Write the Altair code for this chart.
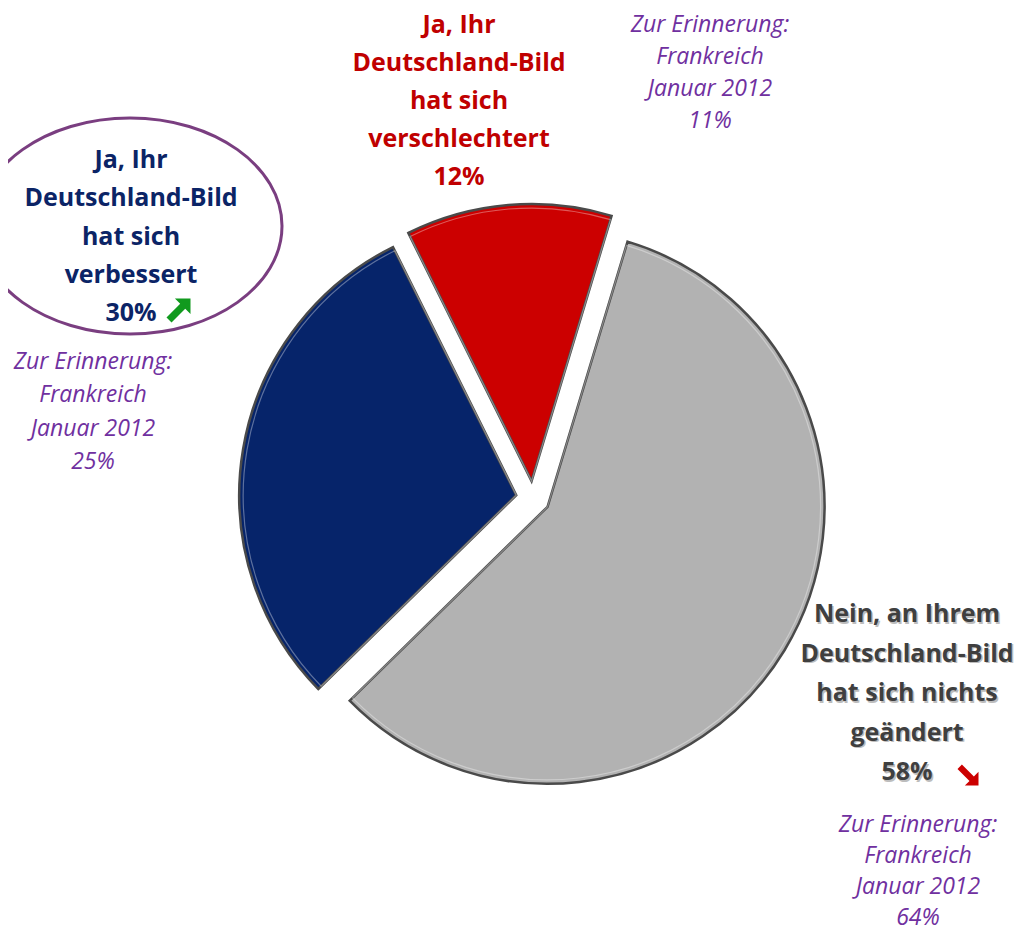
import altair as alt
import pandas as pd

# ---------------- data ----------------
categories = ["Nein, nichts geändert", "Ja, verbessert", "Ja, verschlechtert"]
values = [58, 30, 12]
slice_order = [0, 1, 2]
slice_colors = ["#B2B2B2", "#06246A", "#CC0000"]

label_blue = ["Ja, Ihr", "Deutschland-Bild", "hat sich", "verbessert", "30%"]
label_red = ["Ja, Ihr", "Deutschland-Bild", "hat sich", "verschlechtert", "12%"]
label_gray = ["Nein, an Ihrem", "Deutschland-Bild", "hat sich nichts", "geändert", "58%"]
reminder_blue = ["Zur Erinnerung:", "Frankreich", "Januar 2012", "25%"]
reminder_red = ["Zur Erinnerung:", "Frankreich", "Januar 2012", "11%"]
reminder_gray = ["Zur Erinnerung:", "Frankreich", "Januar 2012", "64%"]

# ---------------- layout (page pixels of the reference) ----------------
OFF = 8
W, H = 1024 - 2 * OFF, 937 - 2 * OFF
CX, CY = 533 - OFF, 498 - OFF
R = 277
EXPLODE = 17
ROT = 0.293  # start angle of first slice (radians, clockwise from top)

df = pd.DataFrame({"cat": categories, "value": values, "order": slice_order})

pie = (
    alt.Chart(df)
    .transform_joinaggregate(total="sum(value)")
    .transform_window(cum="sum(value)", sort=[alt.SortField("order")], frame=[None, 0])
    .transform_calculate(
        start=f"(datum.cum - datum.value) / datum.total * 2 * PI + {ROT}",
        end=f"datum.cum / datum.total * 2 * PI + {ROT}",
    )
    .transform_calculate(mid="(datum.start + datum.end) / 2")
    .transform_calculate(
        cx=f"{CX} + {EXPLODE} * sin(datum.mid)",
        cy=f"{CY} - {EXPLODE} * cos(datum.mid)",
    )
)

base_enc = dict(
    theta=alt.Theta("start:Q", scale=None),
    theta2="end:Q",
    x=alt.X("cx:Q", scale=None, axis=None),
    y=alt.Y("cy:Q", scale=None, axis=None),
)

slices = pie.mark_arc(radius=R, stroke="#4A4A4A", strokeWidth=2.5).encode(
    color=alt.Color("cat:N", scale=alt.Scale(domain=categories, range=slice_colors), legend=None),
    **base_enc,
)
highlight = pie.mark_arc(radius=R - 4, filled=False, stroke="white", strokeWidth=1.2, strokeOpacity=0.35).encode(
    **base_enc
)


def text_block(lines, x, y, color, size, line_h, italic=False, bold=True, dx=0, dy=0):
    """x, y: centre of the first line, in reference page pixels."""
    d = pd.DataFrame({"t": ["\n".join(lines)]})
    return alt.Chart(d).mark_text(
        font="Open Sans",
        fontSize=size,
        fontWeight="bold" if bold else "normal",
        fontStyle="italic" if italic else "normal",
        color=color,
        align="center",
        baseline="middle",
        lineBreak="\n",
        lineHeight=line_h,
        dx=dx,
        dy=dy,
    ).encode(x=alt.value(x - OFF), y=alt.value(y - OFF), text="t:N")


NAVY = "#0B2466"
RED = "#C00000"
GRAY = "#3F3F3F"
PURPLE = "#7030A0"

texts = [
    text_block(label_gray, 907, 614, "#BDBDBD", 25, 39.5, dx=1.5, dy=1.5),
    text_block(label_blue, 131, 160, NAVY, 25, 38.3),
    text_block(label_red, 459, 25, RED, 25, 38.0),
    text_block(label_gray, 907, 614, GRAY, 25, 39.5),
    text_block(reminder_red, 710, 25, PURPLE, 23, 32.0, italic=True, bold=False),
    text_block(reminder_blue, 93, 362, PURPLE, 23, 33.3, italic=True, bold=False),
    text_block(reminder_gray, 918, 825, PURPLE, 23, 31.0, italic=True, bold=False),
]

# ellipse around blue label
k = 0.5523
b = 108 / 152
ell_path = (
    f"M -1 0 C -1 {-b*k:.4f} {-k} {-b:.4f} 0 {-b:.4f} "
    f"C {k} {-b:.4f} 1 {-b*k:.4f} 1 0 "
    f"C 1 {b*k:.4f} {k} {b:.4f} 0 {b:.4f} "
    f"C {-k} {b:.4f} -1 {b*k:.4f} -1 0 Z"
)
ellipse = alt.Chart(pd.DataFrame({"a": [0]})).mark_point(
    shape=ell_path, size=304 ** 2, filled=False, stroke="#7A3E80", strokeWidth=3, opacity=1
).encode(x=alt.value(130 - OFF), y=alt.value(226 - OFF))

up_arrow = "M 1 -1 L 1 0.3 L 0.56 -0.14 L -0.58 1 L -1 0.58 L 0.14 -0.56 L -0.3 -1 Z"
down_arrow = "M 1 1 L 1 -0.3 L 0.56 0.14 L -0.58 -1 L -1 -0.58 L 0.14 0.56 L -0.3 1 Z"

arrow_g = alt.Chart(pd.DataFrame({"a": [0]})).mark_point(
    shape=up_arrow, size=24 ** 2, filled=True, fill="#119A1E", strokeWidth=0, opacity=1
).encode(x=alt.value(178.5 - OFF), y=alt.value(310.5 - OFF))
arrow_r = alt.Chart(pd.DataFrame({"a": [0]})).mark_point(
    shape=down_arrow, size=21 ** 2, filled=True, fill="#CC0000", strokeWidth=0, opacity=1
).encode(x=alt.value(968 - OFF), y=alt.value(775 - OFF))

chart = (
    alt.layer(slices, highlight, ellipse, arrow_g, arrow_r, *texts)
    .properties(width=W, height=H, autosize=alt.AutoSizeParams(type="none"), padding=0, background="white")
    .configure_view(stroke=None)
)

chart.save("out.html", embed_options={"renderer": "svg", "actions": False})
